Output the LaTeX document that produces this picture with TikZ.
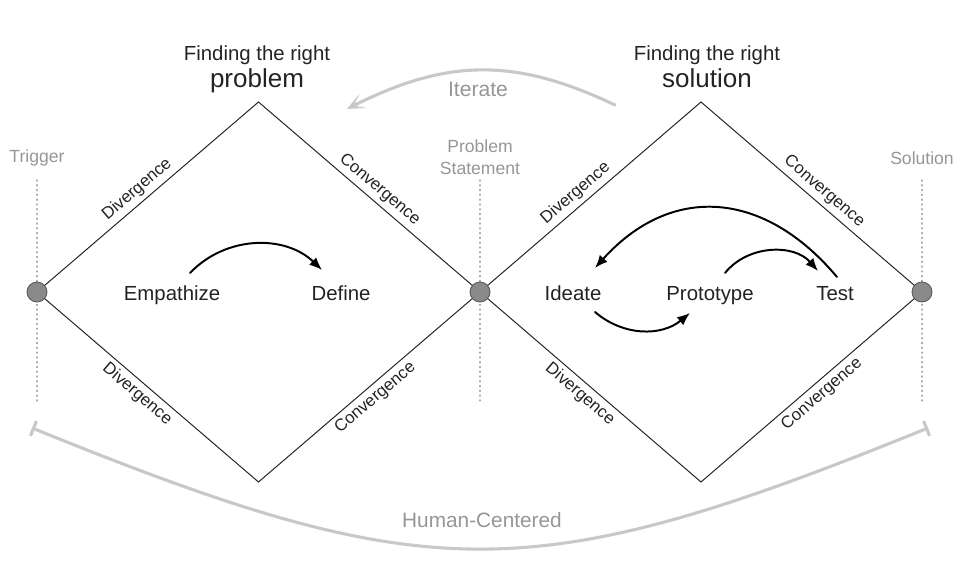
\documentclass[tikz,border=0pt]{standalone}
\usepackage{fontspec}
\setmainfont{Liberation Sans}
\usetikzlibrary{arrows.meta}

\definecolor{inkgray}{RGB}{35,35,35}
\definecolor{hintgray}{RGB}{150,150,150}
\definecolor{arcgray}{RGB}{200,200,200}
\definecolor{guidegray}{RGB}{170,170,170}
\definecolor{phasefill}{RGB}{138,138,138}
\definecolor{phaseline}{RGB}{85,85,85}

\begin{document}
\begin{tikzpicture}[x=1cm,y=1cm,line cap=round,line join=round,
    phase/.style={circle,fill=phasefill,draw=phaseline,line width=0.6pt,minimum size=0.5cm,inner sep=0pt},
    edge/.style={inkgray,line width=0.7pt},
    sidelbl/.style={sloped,text=inkgray,inner sep=3pt,font=\fontsize{12}{14}\selectfont},
    stage/.style={anchor=base,text=inkgray,font=\fontsize{14.5}{17}\selectfont},
    hint/.style={text=hintgray,align=center,font=\fontsize{12.5}{15}\selectfont},
    guide/.style={guidegray,line width=0.8pt,dash pattern=on 0.8pt off 2.6pt},
    flow/.style={black,line width=1.4pt,-{Latex[length=3.2mm,width=2.6mm]}},
    bigarc/.style={arcgray,line width=2.2pt}]
        \useasboundingbox (0,0) rectangle (24.25,14);

        % Puntos de fase
        \coordinate (T) at (0.925,6.7);
        \coordinate (P) at (12.0,6.7);
        \coordinate (S) at (23.05,6.7);
        \coordinate (top1) at (6.4625,11.45);
        \coordinate (bot1) at (6.4625,1.95);
        \coordinate (top2) at (17.525,11.45);
        \coordinate (bot2) at (17.525,1.95);

        % Guias punteadas
        \draw[guide] ([yshift=2.8cm]T) -- ([yshift=-2.8cm]T);
        \draw[guide] ([yshift=2.8cm]P) -- ([yshift=-2.8cm]P);
        \draw[guide] ([yshift=2.8cm]S) -- ([yshift=-2.8cm]S);
        \node[hint] (trigger) at (0.925,10.05) {Trigger};
        \node[hint] (statement) at (12.0,10.07) {Problem\\Statement};
        \node[hint] (solution) at (23.05,10.05) {Solution};

        \node[phase] (trig) at (T) {};
        \node[phase] (ps) at (P) {};
        \node[phase] (sol) at (S) {};

        % Primer diamante
        \draw[edge] (trig) -- node[sidelbl,above,pos=.47] {Divergence} (top1);
        \draw[edge] (top1) -- node[sidelbl,above,pos=.53] {Convergence} (ps);
        \draw[edge] (trig) -- node[sidelbl,below,pos=.47] {Divergence} (bot1);
        \draw[edge] (bot1) -- node[sidelbl,below,pos=.51] {Convergence} (ps);

        % Segundo diamante
        \draw[edge] (ps) -- node[sidelbl,above,pos=.45] {Divergence} (top2);
        \draw[edge] (top2) -- node[sidelbl,above,pos=.54] {Convergence} (sol);
        \draw[edge] (ps) -- node[sidelbl,below,pos=.47] {Divergence} (bot2);
        \draw[edge] (bot2) -- node[sidelbl,below,pos=.53] {Convergence} (sol);

        % Titulos
        \node[stage] (find1) at (6.425,12.475) {Finding the right};
        \node[anchor=base,text=inkgray,font=\fontsize{18.5}{22}\selectfont] (prob) at (6.425,11.8) {problem};
        \node[stage] (find2) at (17.675,12.475) {Finding the right};
        \node[anchor=base,text=inkgray,font=\fontsize{18.5}{22}\selectfont] (solu) at (17.675,11.8) {solution};

        % Etapas
        \node[stage] (emp) at (4.3,6.475) {Empathize};
        \node[stage] (def) at (8.525,6.475) {Define};
        \node[stage] (ide) at (14.325,6.475) {Ideate};
        \node[stage] (pro) at (17.75,6.475) {Prototype};
        \node[stage] (tes) at (20.875,6.475) {Test};

        \draw[flow] ([shift={(0.45,0.7)}]emp.base) to[bend left=45] ([shift={(-0.475,0.775)}]def.base);
        \draw[flow] ([shift={(0.55,-0.275)}]ide.base) to[bend right=40] ([shift={(-0.5,-0.3)}]pro.base);
        \draw[flow] ([shift={(0.375,0.7)}]pro.base) to[bend left=50] ([shift={(-0.425,0.75)}]tes.base);
        \draw[flow] ([shift={(0.05,0.6)}]tes.base) to[out=130,in=48,looseness=1.2] ([shift={(0.55,0.825)}]ide.base);

        % Iterar
        \coordinate (itR) at (15.375,11.375);
        \coordinate (itL) at (8.675,11.275);
        \draw[bigarc,-{Stealth[length=4.5mm,width=4mm,inset=2.6mm]}] (itR) .. controls (12.9,12.55) and (11.2,12.55) .. (itL);
        \node[anchor=base,text=hintgray,font=\fontsize{15}{18}\selectfont] (iterate) at (11.95,11.575) {Iterate};

        % Centrado en el humano
        \coordinate (hcL) at (0.8,3.3);
        \coordinate (hcR) at (23.2,3.3);
        \draw[bigarc,{Bar[width=4mm]}-{Bar[width=4mm]}] (hcL) .. controls (10.75,-0.73) and (13.25,-0.73) .. (hcR);
        \node[anchor=base,text=hintgray,font=\fontsize{14.8}{18}\selectfont] (human) at (12.05,0.825) {Human-Centered};
    \end{tikzpicture}
\end{document}
